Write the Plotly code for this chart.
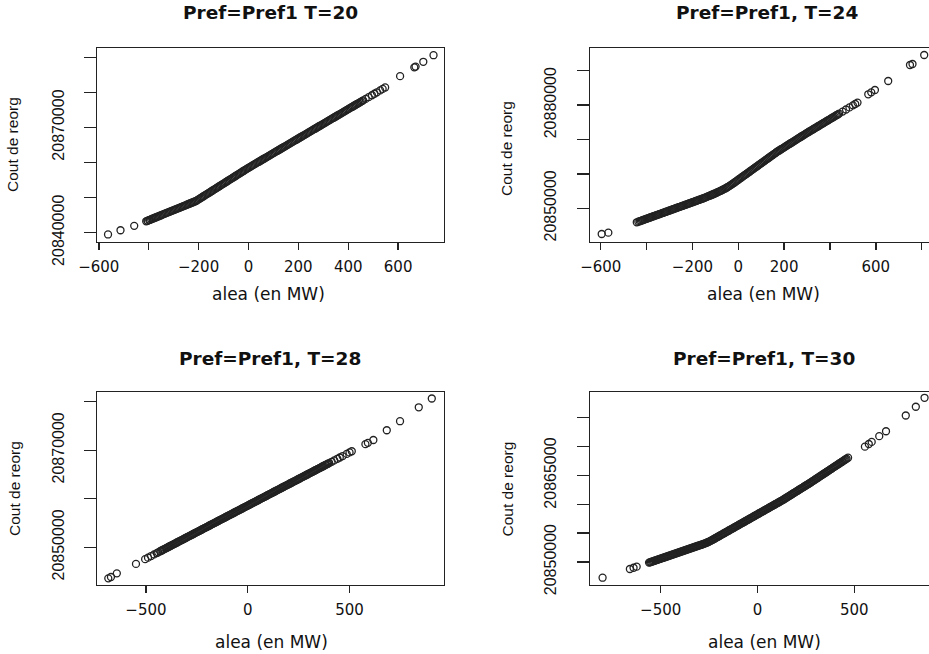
import plotly.graph_objects as go

# ---------------- data ----------------
titles = ["Pref=Pref1 T=20", "Pref=Pref1, T=24", "Pref=Pref1, T=28", "Pref=Pref1, T=30"]
x_title = "alea (en MW)"
y_title = "Cout de reorg"

# Panel 1 : T=20
x1 = [-563, -513, -458, -410, -404, -398, -390, -380, -370, -360, -350, -340, -330, -320, -310,
      -300, -290, -280, -270, -260, -250, -240, -230, -220, -210, -200, -190, -180, -170, -160,
      -150, -140, -130, -120, -110, -100, -90, -80, -70, -60, -50, -40, -30, -20, -10, 0,
      10, 20, 30, 40, 50, 60, 70, 80, 90, 100, 110, 120, 130, 140, 150, 160, 170, 180, 190, 200,
      210, 220, 230, 240, 250, 260, 270, 280, 290, 300, 310, 320, 330, 340, 350, 360, 370, 380,
      390, 400, 410, 420, 430, 440, 450, 460, 470, 482, 495, 505, 515, 528, 538, 548,
      608, 665, 670, 701, 742]
y1 = [20839500, 20840700, 20841950, 20843250, 20843424, 20843598, 20843830, 20844120, 20844410,
      20844700, 20844990, 20845280, 20845570, 20845860, 20846150, 20846440, 20846730, 20847020,
      20847310, 20847600, 20847890, 20848180, 20848470, 20848760, 20849050, 20849500, 20849950,
      20850400, 20850850, 20851300, 20851750, 20852200, 20852650, 20853100, 20853550, 20854000,
      20854450, 20854900, 20855350, 20855800, 20856250, 20856700, 20857150, 20857600, 20858050,
      20858500, 20858918, 20859336, 20859754, 20860172, 20860590, 20861008, 20861426, 20861844,
      20862262, 20862680, 20863098, 20863516, 20863934, 20864352, 20864770, 20865188, 20865606,
      20866024, 20866442, 20866860, 20867278, 20867696, 20868114, 20868532, 20868950, 20869368,
      20869786, 20870204, 20870622, 20871040, 20871458, 20871876, 20872294, 20872712, 20873130,
      20873548, 20873966, 20874384, 20874802, 20875220, 20875638, 20876056, 20876474, 20876892,
      20877310, 20877728, 20878146, 20878648, 20879191, 20879609, 20880027, 20880570, 20880988,
      20881406, 20884630, 20887140, 20887360, 20888720, 20890600]
# second batch of points read inside the dense band
x1b = [-405, -395, -385, -375, -365, -355, -345, -335, -325, -315, -305, -295, -285, -275, -265,
       -255, -245, -235, -225, -215, -205, -195, -185, -175, -165, -155, -145, -135, -125, -115,
       -105, -95, -85, -75, -65, -55, -45, -35, -25, -15, -5, 5, 15, 25, 35, 45, 55, 65, 75, 85,
       95, 105, 115, 125, 135, 145, 155, 165, 175, 185, 195, 205, 215, 225, 235, 245, 255, 265,
       275, 285, 295, 305, 315, 325, 335, 345, 355, 365, 375, 385, 395, 405, 415, 425, 435, 445,
       455]
y1b = [20843395, 20843685, 20843975, 20844265, 20844555, 20844845, 20845135, 20845425, 20845715,
       20846005, 20846295, 20846585, 20846875, 20847165, 20847455, 20847745, 20848035, 20848325,
       20848615, 20848905, 20849275, 20849725, 20850175, 20850625, 20851075, 20851525, 20851975,
       20852425, 20852875, 20853325, 20853775, 20854225, 20854675, 20855125, 20855575, 20856025,
       20856475, 20856925, 20857375, 20857825, 20858275, 20858709, 20859127, 20859545, 20859963,
       20860381, 20860799, 20861217, 20861635, 20862053, 20862471, 20862889, 20863307, 20863725,
       20864143, 20864561, 20864979, 20865397, 20865815, 20866233, 20866651, 20867069, 20867487,
       20867905, 20868323, 20868741, 20869159, 20869577, 20869995, 20870413, 20870831, 20871249,
       20871667, 20872085, 20872503, 20872921, 20873339, 20873757, 20874175, 20874593, 20875011,
       20875429, 20875847, 20876265, 20876683, 20877101, 20877519]

# Panel 2 : T=24
x2 = [-596, -567, -443, -436, -430, -420, -410, -400, -390, -380, -370, -360, -350, -340, -330,
      -320, -310, -300, -290, -280, -270, -260, -250, -240, -230, -220, -210, -200, -190, -180,
      -170, -160, -150, -140, -130, -120, -110, -100, -90, -80, -70, -60, -50, -40, -30, -20,
      -10, 0, 10, 20, 30, 40, 50, 60, 70, 80, 90, 100, 110, 120, 130, 140, 150, 160, 170, 180,
      190, 200, 210, 220, 230, 240, 250, 260, 270, 280, 290, 300, 310, 320, 330, 340, 350, 360,
      370, 380, 390, 400, 410, 420, 430, 440, 455, 470, 485, 500, 510, 520,
      567, 580, 596, 654, 749, 760, 811]
y2 = [20842530, 20842910, 20845930, 20846100, 20846240, 20846480, 20846720, 20846960, 20847200,
      20847440, 20847680, 20847920, 20848160, 20848400, 20848640, 20848880, 20849120, 20849360,
      20849600, 20849840, 20850080, 20850320, 20850560, 20850800, 20851040, 20851280, 20851520,
      20851760, 20852000, 20852240, 20852480, 20852720, 20852960, 20853240, 20853520, 20853800,
      20854080, 20854360, 20854680, 20855000, 20855320, 20855640, 20856040, 20856440, 20856880,
      20857340, 20857820, 20858300, 20858780, 20859260, 20859740, 20860220, 20860700, 20861180,
      20861660, 20862140, 20862620, 20863100, 20863580, 20864060, 20864540, 20865020, 20865500,
      20865980, 20866460, 20866880, 20867300, 20867720, 20868140, 20868560, 20868980, 20869400,
      20869820, 20870240, 20870660, 20871080, 20871500, 20871920, 20872320, 20872720, 20873120,
      20873520, 20873920, 20874320, 20874720, 20875120, 20875520, 20875920, 20876320, 20876720,
      20877120, 20877520, 20878120, 20878720, 20879320, 20879920, 20880320, 20880720,
      20883140, 20883700, 20884390, 20887000, 20891660, 20891950, 20894560]
x2b = [-425, -415, -405, -395, -385, -375, -365, -355, -345, -335, -325, -315, -305, -295, -285,
       -275, -265, -255, -245, -235, -225, -215, -205, -195, -185, -175, -165, -155, -145, -135,
       -125, -115, -105, -95, -85, -75, -65, -55, -45, -35, -25, -15, -5, 5, 15, 25, 35, 45, 55,
       65, 75, 85, 95, 105, 115, 125, 135, 145, 155, 165, 175, 185, 195, 205, 215, 225, 235, 245,
       255, 265, 275, 285, 295, 305, 315, 325, 335, 345, 355, 365, 375, 385, 395, 405, 415, 425,
       435]
y2b = [20846360, 20846600, 20846840, 20847080, 20847320, 20847560, 20847800, 20848040, 20848280,
       20848520, 20848760, 20849000, 20849240, 20849480, 20849720, 20849960, 20850200, 20850440,
       20850680, 20850920, 20851160, 20851400, 20851640, 20851880, 20852120, 20852360, 20852600,
       20852840, 20853100, 20853380, 20853660, 20853940, 20854220, 20854520, 20854840, 20855160,
       20855480, 20855840, 20856240, 20856660, 20857110, 20857580, 20858060, 20858540, 20859020,
       20859500, 20859980, 20860460, 20860940, 20861420, 20861900, 20862380, 20862860, 20863340,
       20863820, 20864300, 20864780, 20865260, 20865740, 20866220, 20866670, 20867090, 20867510,
       20867930, 20868350, 20868770, 20869190, 20869610, 20870030, 20870450, 20870870, 20871290,
       20871710, 20872120, 20872520, 20872920, 20873320, 20873720, 20874120, 20874520, 20874920,
       20875320, 20875720, 20876120, 20876520, 20876920, 20877320]

# Panel 3 : T=28
x3 = [-685, -672, -643, -549, -504, -490, -475, -460, -447, -440, -430, -420, -410, -400, -390,
      -380, -370, -360, -350, -340, -330, -320, -310, -300, -290, -280, -270, -260, -250, -240,
      -230, -220, -210, -200, -190, -180, -170, -160, -150, -140, -130, -120, -110, -100, -90,
      -80, -70, -60, -50, -40, -30, -20, -10, 0, 10, 20, 30, 40, 50, 60, 70, 80, 90, 100, 110,
      120, 130, 140, 150, 160, 170, 180, 190, 200, 210, 220, 230, 240, 250, 260, 270, 280, 290,
      300, 310, 320, 330, 340, 350, 360, 370, 380, 390, 400, 412, 425, 440, 452, 466, 486, 500,
      511, 578, 590, 617, 683, 748, 840, 904]
y3 = [20843600, 20843880, 20844640, 20846580, 20847560, 20847870, 20848200, 20848530, 20848810,
      20848960, 20849180, 20849402, 20849621, 20849840, 20850059, 20850278, 20850497, 20850716,
      20850935, 20851154, 20851373, 20851592, 20851811, 20852030, 20852249, 20852468, 20852687,
      20852906, 20853125, 20853344, 20853563, 20853782, 20854001, 20854220, 20854439, 20854658,
      20854877, 20855096, 20855315, 20855534, 20855753, 20855972, 20856191, 20856410, 20856629,
      20856848, 20857067, 20857286, 20857505, 20857724, 20857943, 20858162, 20858381, 20858600,
      20858819, 20859038, 20859257, 20859476, 20859695, 20859914, 20860133, 20860352, 20860571,
      20860790, 20861009, 20861228, 20861447, 20861666, 20861885, 20862104, 20862323, 20862542,
      20862761, 20862980, 20863199, 20863418, 20863637, 20863856, 20864075, 20864294, 20864513,
      20864732, 20864951, 20865170, 20865389, 20865608, 20865827, 20866046, 20866265, 20866484,
      20866703, 20866922, 20867141, 20867360, 20867623, 20867908, 20868236, 20868500, 20868805,
      20869243, 20869550, 20869790, 20871260, 20871520, 20872110, 20874120, 20875980, 20878850,
      20880660]
x3b = [-425, -415, -405, -395, -385, -375, -365, -355, -345, -335, -325, -315, -305, -295, -285,
       -275, -265, -255, -245, -235, -225, -215, -205, -195, -185, -175, -165, -155, -145, -135,
       -125, -115, -105, -95, -85, -75, -65, -55, -45, -35, -25, -15, -5, 5, 15, 25, 35, 45, 55,
       65, 75, 85, 95, 105, 115, 125, 135, 145, 155, 165, 175, 185, 195, 205, 215, 225, 235, 245,
       255, 265, 275, 285, 295, 305, 315, 325, 335, 345, 355, 365, 375, 385, 395]
y3b = [20849293, 20849512, 20849731, 20849950, 20850169, 20850388, 20850607, 20850826, 20851045,
       20851264, 20851483, 20851702, 20851921, 20852140, 20852359, 20852578, 20852797, 20853016,
       20853235, 20853454, 20853673, 20853892, 20854111, 20854330, 20854549, 20854768, 20854987,
       20855206, 20855425, 20855644, 20855863, 20856082, 20856301, 20856520, 20856739, 20856958,
       20857177, 20857396, 20857615, 20857834, 20858053, 20858272, 20858491, 20858710, 20858929,
       20859148, 20859367, 20859586, 20859805, 20860024, 20860243, 20860462, 20860681, 20860900,
       20861119, 20861338, 20861557, 20861776, 20861995, 20862214, 20862433, 20862652, 20862871,
       20863090, 20863309, 20863528, 20863747, 20863966, 20864185, 20864404, 20864623, 20864842,
       20865061, 20865280, 20865499, 20865718, 20865937, 20866156, 20866375, 20866594, 20866813,
       20867032, 20867251]

# Panel 4 : T=30
x4 = [-800, -659, -640, -624, -560, -555, -550, -540, -530, -520, -510, -500, -490, -480, -470,
      -460, -450, -440, -430, -420, -410, -400, -390, -380, -370, -360, -350, -340, -330, -320,
      -310, -300, -290, -280, -270, -260, -250, -240, -230, -220, -210, -200, -190, -180, -170,
      -160, -150, -140, -130, -120, -110, -100, -90, -80, -70, -60, -50, -40, -30, -20, -10, 0,
      10, 20, 30, 40, 50, 60, 70, 80, 90, 100, 110, 120, 130, 140, 150, 160, 170, 180, 190, 200,
      210, 220, 230, 240, 250, 260, 270, 280, 290, 300, 310, 320, 330, 340, 350, 360, 370, 380,
      390, 400, 410, 420, 430, 440, 450, 460, 468, 555, 575, 590, 629, 664, 766, 818, 863]
y4 = [20847280, 20848790, 20849000, 20849190, 20849900, 20849950, 20850008, 20850123, 20850238,
      20850353, 20850468, 20850583, 20850698, 20850813, 20850928, 20851043, 20851158, 20851273,
      20851388, 20851503, 20851618, 20851733, 20851848, 20851963, 20852078, 20852193, 20852308,
      20852423, 20852538, 20852653, 20852768, 20852883, 20852990, 20853110, 20853240, 20853380,
      20853530, 20853700, 20853890, 20854080, 20854270, 20854460, 20854650, 20854840, 20855030,
      20855220, 20855410, 20855600, 20855790, 20855980, 20856170, 20856360, 20856550, 20856740,
      20856930, 20857120, 20857310, 20857500, 20857690, 20857880, 20858070, 20858260, 20858450,
      20858640, 20858830, 20859020, 20859210, 20859400, 20859590, 20859780, 20859970, 20860160,
      20860350, 20860540, 20860730, 20860940, 20861150, 20861360, 20861570, 20861780, 20861990,
      20862200, 20862410, 20862620, 20862830, 20863040, 20863250, 20863460, 20863670, 20863890,
      20864110, 20864340, 20864560, 20864780, 20865000, 20865230, 20865450, 20865670, 20865890,
      20866120, 20866340, 20866560, 20866780, 20867000, 20867230, 20867450, 20867670, 20867890,
      20868070, 20869980, 20870440, 20870800, 20871800, 20872650, 20875380, 20876900, 20878450]
x4b = [-545, -535, -525, -515, -505, -495, -485, -475, -465, -455, -445, -435, -425, -415, -405,
       -395, -385, -375, -365, -355, -345, -335, -325, -315, -305, -295, -285, -275, -265, -255,
       -245, -235, -225, -215, -205, -195, -185, -175, -165, -155, -145, -135, -125, -115, -105,
       -95, -85, -75, -65, -55, -45, -35, -25, -15, -5, 5, 15, 25, 35, 45, 55, 65, 75, 85, 95,
       105, 115, 125, 135, 145, 155, 165, 175, 185, 195, 205, 215, 225, 235, 245, 255, 265, 275,
       285, 295, 305, 315, 325, 335, 345, 355, 365, 375, 385, 395, 405, 415, 425, 435, 445, 455]
y4b = [20850065, 20850180, 20850295, 20850410, 20850525, 20850640, 20850755, 20850870, 20850985,
       20851100, 20851215, 20851330, 20851445, 20851560, 20851675, 20851790, 20851905, 20852020,
       20852135, 20852250, 20852365, 20852480, 20852595, 20852710, 20852825, 20852935, 20853050,
       20853175, 20853310, 20853455, 20853615, 20853795, 20853985, 20854175, 20854365, 20854555,
       20854745, 20854935, 20855125, 20855315, 20855505, 20855695, 20855885, 20856075, 20856265,
       20856455, 20856645, 20856835, 20857025, 20857215, 20857405, 20857595, 20857785, 20857975,
       20858165, 20858355, 20858545, 20858735, 20858925, 20859115, 20859305, 20859495, 20859685,
       20859875, 20860065, 20860255, 20860445, 20860635, 20860835, 20861045, 20861255, 20861465,
       20861675, 20861885, 20862095, 20862305, 20862515, 20862725, 20862935, 20863145, 20863355,
       20863565, 20863781, 20864003, 20864225, 20864447, 20864669, 20864891, 20865113, 20865335,
       20865557, 20865779, 20866001, 20866223, 20866445, 20866667, 20866889, 20867111, 20867333,
       20867555, 20867777]

# axis ticks
xt1 = [-600, -400, -200, 0, 200, 400, 600]
xl1 = ["\u2212600", "", "\u2212200", "0", "200", "400", "600"]
xt2 = [-600, -400, -200, 0, 200, 400, 600, 800]
xl2 = ["\u2212600", "", "\u2212200", "0", "200", "", "600", ""]
xt3 = [-500, 0, 500]
xl3 = ["\u2212500", "0", "500"]
xt4 = [-500, 0, 500]
xl4 = ["\u2212500", "0", "500"]
yt1 = [20840000, 20850000, 20860000, 20870000, 20880000, 20890000]
yl1 = ["20840000", "", "", "20870000", "", ""]
yt2 = [20850000, 20860000, 20870000, 20880000, 20890000]
yl2 = ["20850000", "", "", "20880000", ""]
yt3 = [20850000, 20860000, 20870000, 20880000]
yl3 = ["20850000", "", "20870000", ""]
yt4 = [20850000, 20855000, 20860000, 20865000, 20870000, 20875000]
yl4 = ["20850000", "", "", "20865000", "", ""]

# ---------------- layout geometry ----------------
W, H = 929, 654
def px(xp):
    return xp / W
def py(yp):
    return 1 - yp / H

dom_x_left = [px(97.3), px(444)]
dom_x_right = [px(590), 1.0]
dom_y_top = [py(242), py(48.3)]
dom_y_bot = [py(585), py(392.3)]

LC = "#222222"
TXT = "#111111"

def make_x(domain, rng, anchor, tv, tt):
    return dict(domain=domain, range=rng, anchor=anchor, showline=True, linecolor=LC,
                linewidth=1.4, mirror=True, ticks="outside", ticklen=7, tickwidth=1.4,
                tickcolor=LC, tickvals=tv, ticktext=tt, showgrid=False, zeroline=False,
                automargin=False, fixedrange=True,
                tickfont=dict(family="DejaVu Sans", size=15, color=TXT),
                ticklabelstandoff=4)

def make_y(domain, rng, anchor, tv, tt, mirror):
    return dict(domain=domain, range=rng, anchor=anchor, showline=True, linecolor=LC,
                linewidth=1.4, mirror=mirror, ticks="outside", ticklen=12, tickwidth=1.4,
                tickcolor=LC, tickvals=tv, ticktext=tt, showgrid=False, zeroline=False,
                tickangle=-90, automargin=False, fixedrange=True,
                tickfont=dict(family="Liberation Sans Narrow, Liberation Sans", size=16, color=TXT),
                ticklabelstandoff=14)

fig = go.Figure()
marker = dict(symbol="circle-open", size=7, color="#222222", line=dict(width=1.3, color="#222222"))
panels = [(x1 + x1b, y1 + y1b, "x", "y"), (x2 + x2b, y2 + y2b, "x2", "y2"),
          (x3 + x3b, y3 + y3b, "x3", "y3"), (x4 + x4b, y4 + y4b, "x4", "y4")]
for xs, ys, xa, ya in panels:
    fig.add_trace(go.Scatter(x=xs, y=ys, mode="markers", marker=marker,
                             xaxis=xa, yaxis=ya, showlegend=False, hoverinfo="skip"))

fig.update_layout(
    width=W, height=H, margin=dict(l=0, r=0, t=0, b=0, autoexpand=False),
    paper_bgcolor="white", plot_bgcolor="white", showlegend=False, hovermode=False,
    xaxis=make_x(dom_x_left, [-606, 784], "y", xt1, xl1),
    yaxis=make_y(dom_y_top, [20837350, 20892570], "x", yt1, yl1, True),
    xaxis2=make_x(dom_x_right, [-647, 832], "y2", xt2, xl2),
    yaxis2=make_y(dom_y_top, [20840200, 20896510], "x2", yt2, yl2, False),
    xaxis3=make_x(dom_x_left, [-739, 964], "y3", xt3, xl3),
    yaxis3=make_y(dom_y_bot, [20842230, 20881940], "x3", yt3, yl3, True),
    xaxis4=make_x(dom_x_right, [-865, 886], "y4", xt4, xl4),
    yaxis4=make_y(dom_y_bot, [20846015, 20879400], "x4", yt4, yl4, False),
)

ann = []
title_pos = [(270.5, 12), (767, 12), (270, 358), (764, 358)]
for t, (xp_, yp_) in zip(titles, title_pos):
    ann.append(dict(text="<b>" + t + "</b>", x=px(xp_), y=py(yp_), xref="paper", yref="paper",
                    showarrow=False, xanchor="center", yanchor="middle",
                    font=dict(family="DejaVu Sans", size=18.5, color=TXT)))
xt_pos = [(268, 293.5), (763, 293.5), (271, 641.7), (764, 641.7)]
for (xp_, yp_) in xt_pos:
    ann.append(dict(text=x_title, x=px(xp_), y=py(yp_), xref="paper", yref="paper",
                    showarrow=False, xanchor="center", yanchor="middle",
                    font=dict(family="DejaVu Sans", size=17, color=TXT)))
yt_pos = [(13, 145), (506, 149), (14, 489), (506.5, 489)]
for (xp_, yp_) in yt_pos:
    ann.append(dict(text=y_title, x=px(xp_), y=py(yp_), xref="paper", yref="paper",
                    showarrow=False, xanchor="center", yanchor="middle", textangle=-90,
                    font=dict(family="Liberation Sans Narrow, Liberation Sans", size=15.5, color=TXT)))
fig.update_layout(annotations=ann)

# remove the browser's default 8 px page margin so the figure fills the window exactly
fig.write_html("out.html", config={"displayModeBar": False, "staticPlot": True},
               post_script="document.body.style.margin='0px';document.body.style.overflow='hidden';")
